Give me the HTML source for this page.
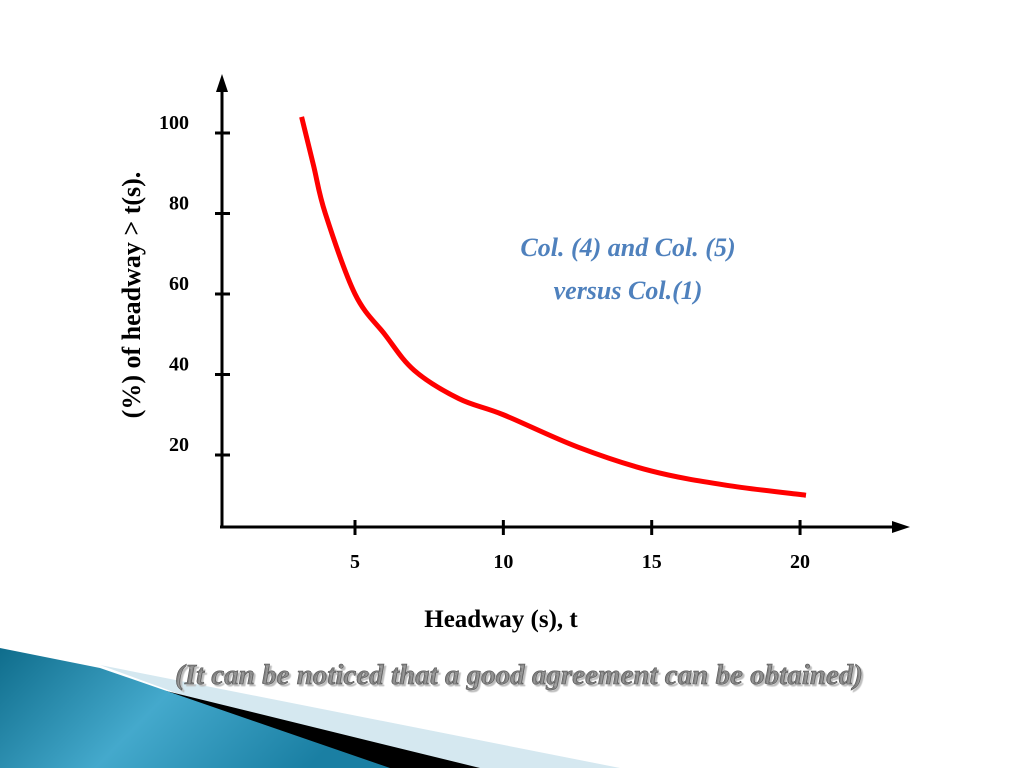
<!DOCTYPE html>
<html><head><meta charset="utf-8"><style>
body{margin:0;width:1024px;height:768px;background:#fff;overflow:hidden;font-family:"Liberation Serif",serif}
svg{position:absolute;left:0;top:0}
</style></head><body>
<svg width="1024" height="768">
<defs><linearGradient id="bg" x1="0" y1="0" x2="1" y2="0.3"><stop offset="0" stop-color="#0f6d8c"/><stop offset="0.5" stop-color="#44a9cc"/><stop offset="1" stop-color="#1a7fa3"/></linearGradient></defs>
<g>
<polygon points="100,665 620,768 380,768" fill="#d5e8f0"/>
<polygon points="40,660 480,768 360,768" fill="#000"/>
<polygon points="0,648 100,668 390,768 0,768" fill="url(#bg)"/>
</g>
<g id="axes" stroke="#000" stroke-width="3"></g>
<g id="plot"></g>
<text x="628" y="256" font-size="26" font-style="italic" font-weight="bold" fill="#4f81bd" text-anchor="middle">Col. (4) and Col. (5)</text>
<text x="628" y="299" font-size="26" font-style="italic" font-weight="bold" fill="#4f81bd" text-anchor="middle">versus Col.(1)</text>
<text x="501" y="627" font-size="25" font-weight="bold" text-anchor="middle">Headway (s), t</text>
<text transform="translate(140,295) rotate(-90)" font-size="26" font-weight="bold" text-anchor="middle">(%) of headway &gt; t(s).</text>
<text x="519" y="684" font-size="29" font-style="italic" font-weight="bold" fill="#7f7f7f" stroke="#555" stroke-width="0.6" text-anchor="middle" style="text-shadow:2px 2px 1px #bbb">(It can be noticed that a good agreement can be obtained)</text>
</svg>
<script>
const xTicks=[5,10,15,20];
const yTicks=[20,40,60,80,100];
const tVals=[3.2,3.6,4,5,6,7,8.5,10,12.5,15,17.5,20.2];
const pctVals=[104,92,80,60,50,41,34,30,22,16,12.5,10];
const NS="http://www.w3.org/2000/svg";
const X=v=>355+(v-5)*29.67;
const Y=v=>535.5-v*4.025;
const ax=document.getElementById('axes');
function mk(tag,attrs,parent){const e=document.createElementNS(NS,tag);for(const k in attrs)e.setAttribute(k,attrs[k]);parent.appendChild(e);return e;}
const svg=document.querySelector('svg');
let l=mk('line',{x1:222,y1:527,x2:222,y2:85},ax);


l=mk('line',{x1:220,y1:527,x2:898,y2:527},ax);


let p=mk('polygon',{points:'222,74 216,92 228,92',fill:'#000',stroke:'none'},svg);


p=mk('polygon',{points:'910,527 892,521 892,533',fill:'#000',stroke:'none'},svg);


yTicks.forEach(v=>{
 const t=mk('line',{x1:215,x2:230,y1:Y(v),y2:Y(v)},ax);
 
 
 const tx=mk('text',{x:189,y:Y(v)-4,'font-size':20,'font-weight':'bold','text-anchor':'end'},svg);
 tx.textContent=v;
 
 
});
xTicks.forEach(v=>{
 const t=mk('line',{x1:X(v),x2:X(v),y1:520,y2:535},ax);
 
 
 const tx=mk('text',{x:X(v),y:568,'font-size':20,'font-weight':'bold','text-anchor':'middle'},svg);
 tx.textContent=v;
 
 
});
const pts=tVals.map((t,i)=>[X(t),Y(pctVals[i])]);
let d='M'+pts[0][0]+','+pts[0][1];
for(let i=0;i<pts.length-1;i++){
 const p0=pts[i-1]||pts[i],p1=pts[i],p2=pts[i+1],p3=pts[i+2]||p2;
 const c1=[p1[0]+(p2[0]-p0[0])/6,p1[1]+(p2[1]-p0[1])/6];
 const c2=[p2[0]-(p3[0]-p1[0])/6,p2[1]-(p3[1]-p1[1])/6];
 d+=` C${c1[0]},${c1[1]} ${c2[0]},${c2[1]} ${p2[0]},${p2[1]}`;
}
const c=mk('path',{d:d,fill:'none',stroke:'#ff0000','stroke-width':5},document.getElementById('plot'));


</script>
</body></html>
